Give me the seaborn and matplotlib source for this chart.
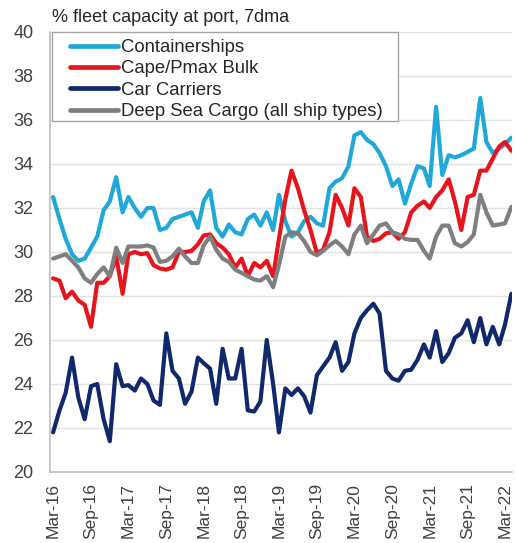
import pandas as pd
import numpy as np
import matplotlib
matplotlib.use("Agg")
import matplotlib.pyplot as plt
import matplotlib.dates as mdates
from matplotlib.patches import Rectangle
import seaborn as sns

# ---- data (monthly readings, Mar-16 .. Apr-22) ----
start = "2016-03-01"
n_points = 74

containerships = [32.5, 31.5, 30.6, 29.9, 29.6, 29.7, 30.2, 30.7, 31.9, 32.3,
                  33.4, 31.8, 32.5, 32.0, 31.6, 32.0, 32.0, 31.0, 31.1, 31.5,
                  31.6, 31.7, 31.8, 31.1, 32.3, 32.8, 31.1, 30.7, 31.25, 30.9,
                  30.8, 31.5, 31.7, 31.2, 31.8, 31.0, 32.6, 31.4, 30.7, 30.9,
                  31.4, 31.6, 31.3, 31.2, 32.9, 33.2, 33.35, 33.9, 35.3, 35.45,
                  35.1, 34.9, 34.5, 33.9, 33.0, 33.3, 32.2, 33.1, 33.9, 33.8,
                  33.0, 36.6, 33.5, 34.4, 34.3, 34.4, 34.55, 34.7, 37.0, 35.0,
                  34.5, 34.7, 34.9, 35.2]

cape_pmax = [28.8, 28.7, 27.9, 28.2, 27.8, 27.6, 26.6, 28.6, 28.6, 28.9,
             29.8, 28.1, 29.9, 30.0, 29.9, 29.95, 29.4, 29.25, 29.2, 29.3,
             30.0, 30.0, 30.05, 30.35, 30.75, 30.8, 30.4, 30.2, 29.9, 29.3,
             29.7, 28.9, 29.5, 29.3, 29.6, 28.9, 30.6, 32.4, 33.7, 32.9,
             31.9, 31.0, 29.95, 30.1, 30.9, 32.6, 32.0, 31.2, 32.9, 32.5,
             30.7, 30.5, 30.6, 30.85, 30.9, 30.6, 30.9, 31.8, 32.1, 32.3,
             32.0, 32.5, 32.8, 33.3, 32.3, 31.0, 32.5, 32.6, 33.7, 33.7,
             34.25, 34.8, 35.0, 34.6]

car_carriers = [21.8, 22.8, 23.6, 25.2, 23.4, 22.4, 23.9, 24.0, 22.4, 21.4,
                24.9, 23.9, 23.95, 23.7, 24.25, 24.0, 23.25, 23.05, 26.3, 24.6,
                24.25, 23.1, 23.65, 25.2, 24.95, 24.7, 23.1, 25.6, 24.25, 24.25,
                25.6, 22.8, 22.75, 23.2, 26.0, 24.0, 21.8, 23.8, 23.5, 23.8,
                23.45, 22.7, 24.4, 24.8, 25.2, 25.9, 24.6, 25.0, 26.3, 27.0,
                27.35, 27.65, 27.2, 24.6, 24.25, 24.15, 24.6, 24.65, 25.1, 25.8,
                25.2, 26.4, 25.0, 25.4, 26.1, 26.3, 26.9, 25.9, 27.0, 25.8,
                26.6, 25.8, 26.7, 28.1]

deep_sea = [29.7, 29.8, 29.9, 29.6, 29.3, 28.8, 28.6, 29.0, 29.3, 28.9,
            30.2, 29.5, 30.25, 30.25, 30.25, 30.3, 30.2, 29.55, 29.6, 29.8,
            30.15, 29.8, 29.5, 29.5, 30.3, 30.7, 30.1, 29.7, 29.55, 29.2,
            29.05, 28.9, 28.75, 28.7, 28.9, 28.4, 29.4, 30.7, 30.9, 30.85,
            30.5, 30.0, 29.85, 30.05, 30.3, 30.5, 30.25, 29.9, 30.8, 31.2,
            30.4, 30.8, 31.2, 31.3, 30.9, 30.8, 30.6, 30.55, 30.55, 30.05,
            29.7, 30.7, 31.2, 31.2, 30.4, 30.25, 30.45, 30.8, 32.6, 31.8,
            31.2, 31.25, 31.3, 32.05]

series_names = ["Containerships", "Cape/Pmax Bulk", "Car Carriers",
                "Deep Sea Cargo (all ship types)"]
series_colors = ["#1fa8d8", "#e8141b", "#10296a", "#7f7f7f"]
y_ticks = list(range(20, 41, 2))
title_text = "% fleet capacity at port, 7dma"

dates = pd.date_range(start, periods=n_points, freq="MS")
frames = []
for name, vals in zip(series_names, [containerships, cape_pmax, car_carriers, deep_sea]):
    frames.append(pd.DataFrame({"date": dates, "value": vals, "series": name}))
df = pd.concat(frames, ignore_index=True)

# ---- style ----
sns.set_style("white")
plt.rcParams["font.family"] = ["Liberation Sans", "DejaVu Sans"]

W, H = 516, 543
fig = plt.figure(figsize=(W / 100, H / 100), dpi=100)
ax = fig.add_axes([50 / W, 1 - 472 / H, 462 / W, 440 / H])

sns.lineplot(data=df, x="date", y="value", hue="series", hue_order=series_names,
             palette=series_colors, linewidth=3.0, ax=ax, legend=True)
for ln in ax.get_lines():
    ln.set_solid_joinstyle("round")
    ln.set_solid_capstyle("round")

ax.set_ylim(20, 40)
ax.set_yticks(y_ticks)
ax.set_xlim(pd.Timestamp("2016-03-01") - pd.Timedelta(days=15),
            pd.Timestamp("2022-04-01") + pd.Timedelta(days=3))
ax.xaxis.set_major_locator(mdates.MonthLocator(bymonth=[3, 9], bymonthday=1))
ax.xaxis.set_major_formatter(mdates.DateFormatter("%b-%y"))
ax.tick_params(axis="x", rotation=90, labelsize=12.5, length=0, pad=8,
               labelcolor="#404040")
ax.tick_params(axis="y", labelsize=13, length=0, pad=12, labelcolor="#404040")
ax.set_xlabel("")
ax.set_ylabel("")

ax.yaxis.grid(True, color="#e3e3e3", linewidth=1.0)
ax.xaxis.grid(False)
for s in ["top", "right"]:
    ax.spines[s].set_visible(False)
for s in ["left", "bottom"]:
    ax.spines[s].set_color("#bfbfbf")
    ax.spines[s].set_linewidth(1.2)

# legend frame drawn separately (wide horizontal, tight vertical padding)
frame = Rectangle((52 / W, 1 - 121 / H), 346 / W, 89 / H, transform=fig.transFigure,
                  facecolor="white", edgecolor="#a6a6a6", linewidth=1.0, zorder=4)
ax.add_patch(frame)
frame.set_clip_on(False)

leg = ax.legend(loc="upper left", bbox_to_anchor=(70 / W, 1 - 39 / H),
                bbox_transform=fig.transFigure, borderaxespad=0, borderpad=0,
                fontsize=13.3, handlelength=2.6, handletextpad=0.15,
                labelspacing=0.24, frameon=False)
leg.set_zorder(5)
for t in leg.get_texts():
    t.set_color("#262626")
for h in leg.get_lines():
    h.set_linewidth(3.4)

fig.text(52 / W, 1 - 18 / H, title_text, fontsize=13, color="#262626",
         ha="left", va="center")

fig.savefig("out.png", dpi=100, facecolor="white")
